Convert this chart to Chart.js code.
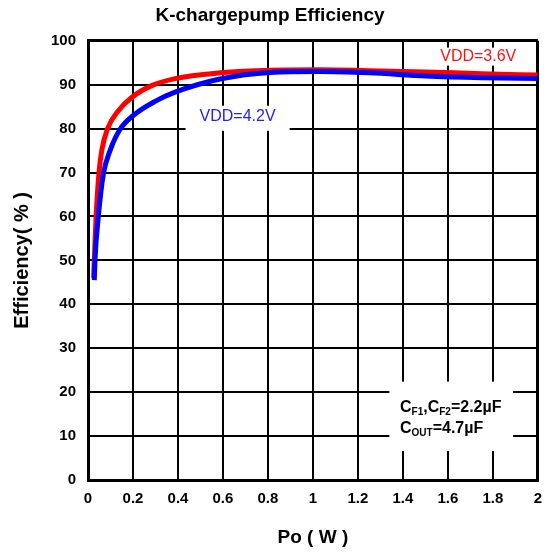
<!DOCTYPE html>
<html>
<head>
<meta charset="utf-8">
<script src="https://cdn.jsdelivr.net/npm/chart.js@4/dist/chart.umd.min.js"></script>
<style>
  body { margin: 0; background: #fff; }
  #wrap { width: 552px; height: 552px; }
</style>
</head>
<body>
<div id="wrap"><canvas id="myChart"></canvas></div>
<script>
// VDD = 3.6V curve
const red36X = [0.025, 0.028, 0.036, 0.049, 0.061, 0.087, 0.135, 0.194, 0.283, 0.387, 0.587, 0.81, 1.03, 1.25, 1.5, 1.75, 2.0];
const red36Y = [46, 50, 60, 70, 75, 80, 84.1, 87.1, 89.8, 91.4, 92.7, 93.3, 93.4, 93.2, 92.9, 92.5, 92.2];
// VDD = 4.2V curve
const blue42X = [0.028, 0.031, 0.046, 0.068, 0.098, 0.142, 0.209, 0.298, 0.387, 0.587, 0.81, 1.03, 1.25, 1.5, 1.75, 2.0];
const blue42Y = [45.5, 50, 60, 69.6, 75, 79.8, 83.3, 86.2, 88.3, 91.3, 92.8, 93.0, 92.7, 92.0, 91.6, 91.4];

const xTickLabels = ['0', '0.2', '0.4', '0.6', '0.8', '1', '1.2', '1.4', '1.6', '1.8', '2'];
const yTickLabels = ['0', '10', '20', '30', '40', '50', '60', '70', '80', '90', '100'];

const FONT = "'Liberation Sans', Arial, sans-serif";

function toPoints(xs, ys) {
    return xs.map((x, i) => ({ x: x, y: ys[i] }));
}

// text labels and the white box drawn over the grid
const notesPlugin = {
    id: 'notes',
    beforeDatasetsDraw(chart) {
        const ctx = chart.ctx;
        const xs = chart.scales.x;
        const ys = chart.scales.y;
        ctx.save();

        // white box for capacitor note
        const bx1 = xs.getPixelForValue(1.34), bx2 = xs.getPixelForValue(1.89);
        const by1 = ys.getPixelForValue(22.4), by2 = ys.getPixelForValue(6.6);
        ctx.fillStyle = '#fff';
        ctx.fillRect(bx1, by1, bx2 - bx1, by2 - by1);

        // VDD labels
        ctx.font = '16px ' + FONT;
        ctx.textAlign = 'center';
        ctx.textBaseline = 'middle';
        let cx = xs.getPixelForValue(0.665), cy = ys.getPixelForValue(82.7);
        let w = ctx.measureText('VDD=4.2V').width;
        ctx.fillStyle = '#fff';
        ctx.fillRect(cx - w / 2 - 14, cy - 11, w + 28, 25);
        ctx.fillStyle = '#2222ee';
        ctx.fillText('VDD=4.2V', cx, cy);

        cx = xs.getPixelForValue(1.735); cy = ys.getPixelForValue(96.4);
        w = ctx.measureText('VDD=3.6V').width;
        ctx.fillStyle = '#fff';
        ctx.fillRect(cx - w / 2 - 2, cy - 9, w + 4, 18);
        ctx.fillStyle = '#ff1111';
        ctx.fillText('VDD=3.6V', cx, cy);

        // capacitor note with subscripts
        const big = 'bold 16px ' + FONT, small = 'bold 10px ' + FONT;
        const line1 = [['C', big, 0], ['F1', small, 3], [',C', big, 0], ['F2', small, 3], ['=2.2\u00b5F', big, 0]];
        const line2 = [['C', big, 0], ['OUT', small, 3], ['=4.7\u00b5F', big, 0]];
        ctx.textAlign = 'left';
        ctx.textBaseline = 'alphabetic';
        ctx.fillStyle = '#000';
        [[line1, 412], [line2, 433]].forEach(([parts, base]) => {
            let x = 400;
            parts.forEach(([t, f, dy]) => {
                ctx.font = f;
                ctx.fillText(t, x, base + dy);
                x += ctx.measureText(t).width;
            });
        });
        ctx.restore();
    }
};

const ctx = document.getElementById('myChart').getContext('2d');
const chart = new Chart(ctx, {
    type: 'line',
    data: {
        datasets: [{
            label: 'VDD=4.2V',
            data: toPoints(blue42X, blue42Y),
            borderColor: '#0000ff',
            borderWidth: 5,
            pointRadius: 0,
            cubicInterpolationMode: 'monotone',
            fill: false,
            order: 0
        }, {
            label: 'VDD=3.6V',
            data: toPoints(red36X, red36Y),
            borderColor: '#ff0000',
            borderWidth: 5,
            pointRadius: 0,
            cubicInterpolationMode: 'monotone',
            fill: false,
            order: 1
        }]
    },
    options: {
        responsive: true,
        maintainAspectRatio: false,
        animation: false,
        layout: { padding: { left: 0, right: 12, top: 0, bottom: 0 } },
        plugins: {
            legend: { display: false },
            tooltip: { enabled: false },
            title: {
                display: true,
                text: 'K-chargepump Efficiency',
                color: '#000',
                font: { family: FONT, size: 19, weight: 'bold' },
                padding: { top: 4, bottom: 14 }
            }
        },
        scales: {
            x: {
                type: 'linear',
                min: 0,
                max: 2,
                afterBuildTicks: s => { s.ticks = xTickLabels.map(t => ({ value: parseFloat(t) })); },
                afterFit: s => { s.height = 72; },
                ticks: {
                    color: '#000',
                    padding: 10,
                    maxRotation: 0,
                    autoSkip: false,
                    font: { family: FONT, size: 15, weight: 'bold' },
                    callback: (v, i) => xTickLabels[i]
                },
                grid: {
                    color: '#000',
                    lineWidth: c => (c.index === xTickLabels.length - 1 ? 3 : 2),
                    drawTicks: false
                },
                border: { color: '#000', width: 3 },
                title: {
                    display: true,
                    text: 'Po ( W )',
                    color: '#000',
                    font: { family: FONT, size: 19, weight: 'bold' },
                    padding: { top: 4, bottom: 3 }
                }
            },
            y: {
                type: 'linear',
                min: 0,
                max: 100,
                afterBuildTicks: s => { s.ticks = yTickLabels.map(t => ({ value: parseFloat(t) })); },
                afterFit: s => { s.width = 88; },
                ticks: {
                    color: '#000',
                    padding: 12,
                    autoSkip: false,
                    font: { family: FONT, size: 15, weight: 'bold' },
                    callback: (v, i) => yTickLabels[i]
                },
                grid: {
                    color: '#000',
                    lineWidth: c => (c.index === yTickLabels.length - 1 ? 3 : 2),
                    drawTicks: false
                },
                border: { color: '#000', width: 3 },
                title: {
                    display: true,
                    text: 'Efficiency( % )',
                    color: '#000',
                    font: { family: FONT, size: 20, weight: 'bold' },
                    padding: { top: 10, bottom: 0 }
                }
            }
        }
    },
    plugins: [notesPlugin]
});
</script>
</body>
</html>
